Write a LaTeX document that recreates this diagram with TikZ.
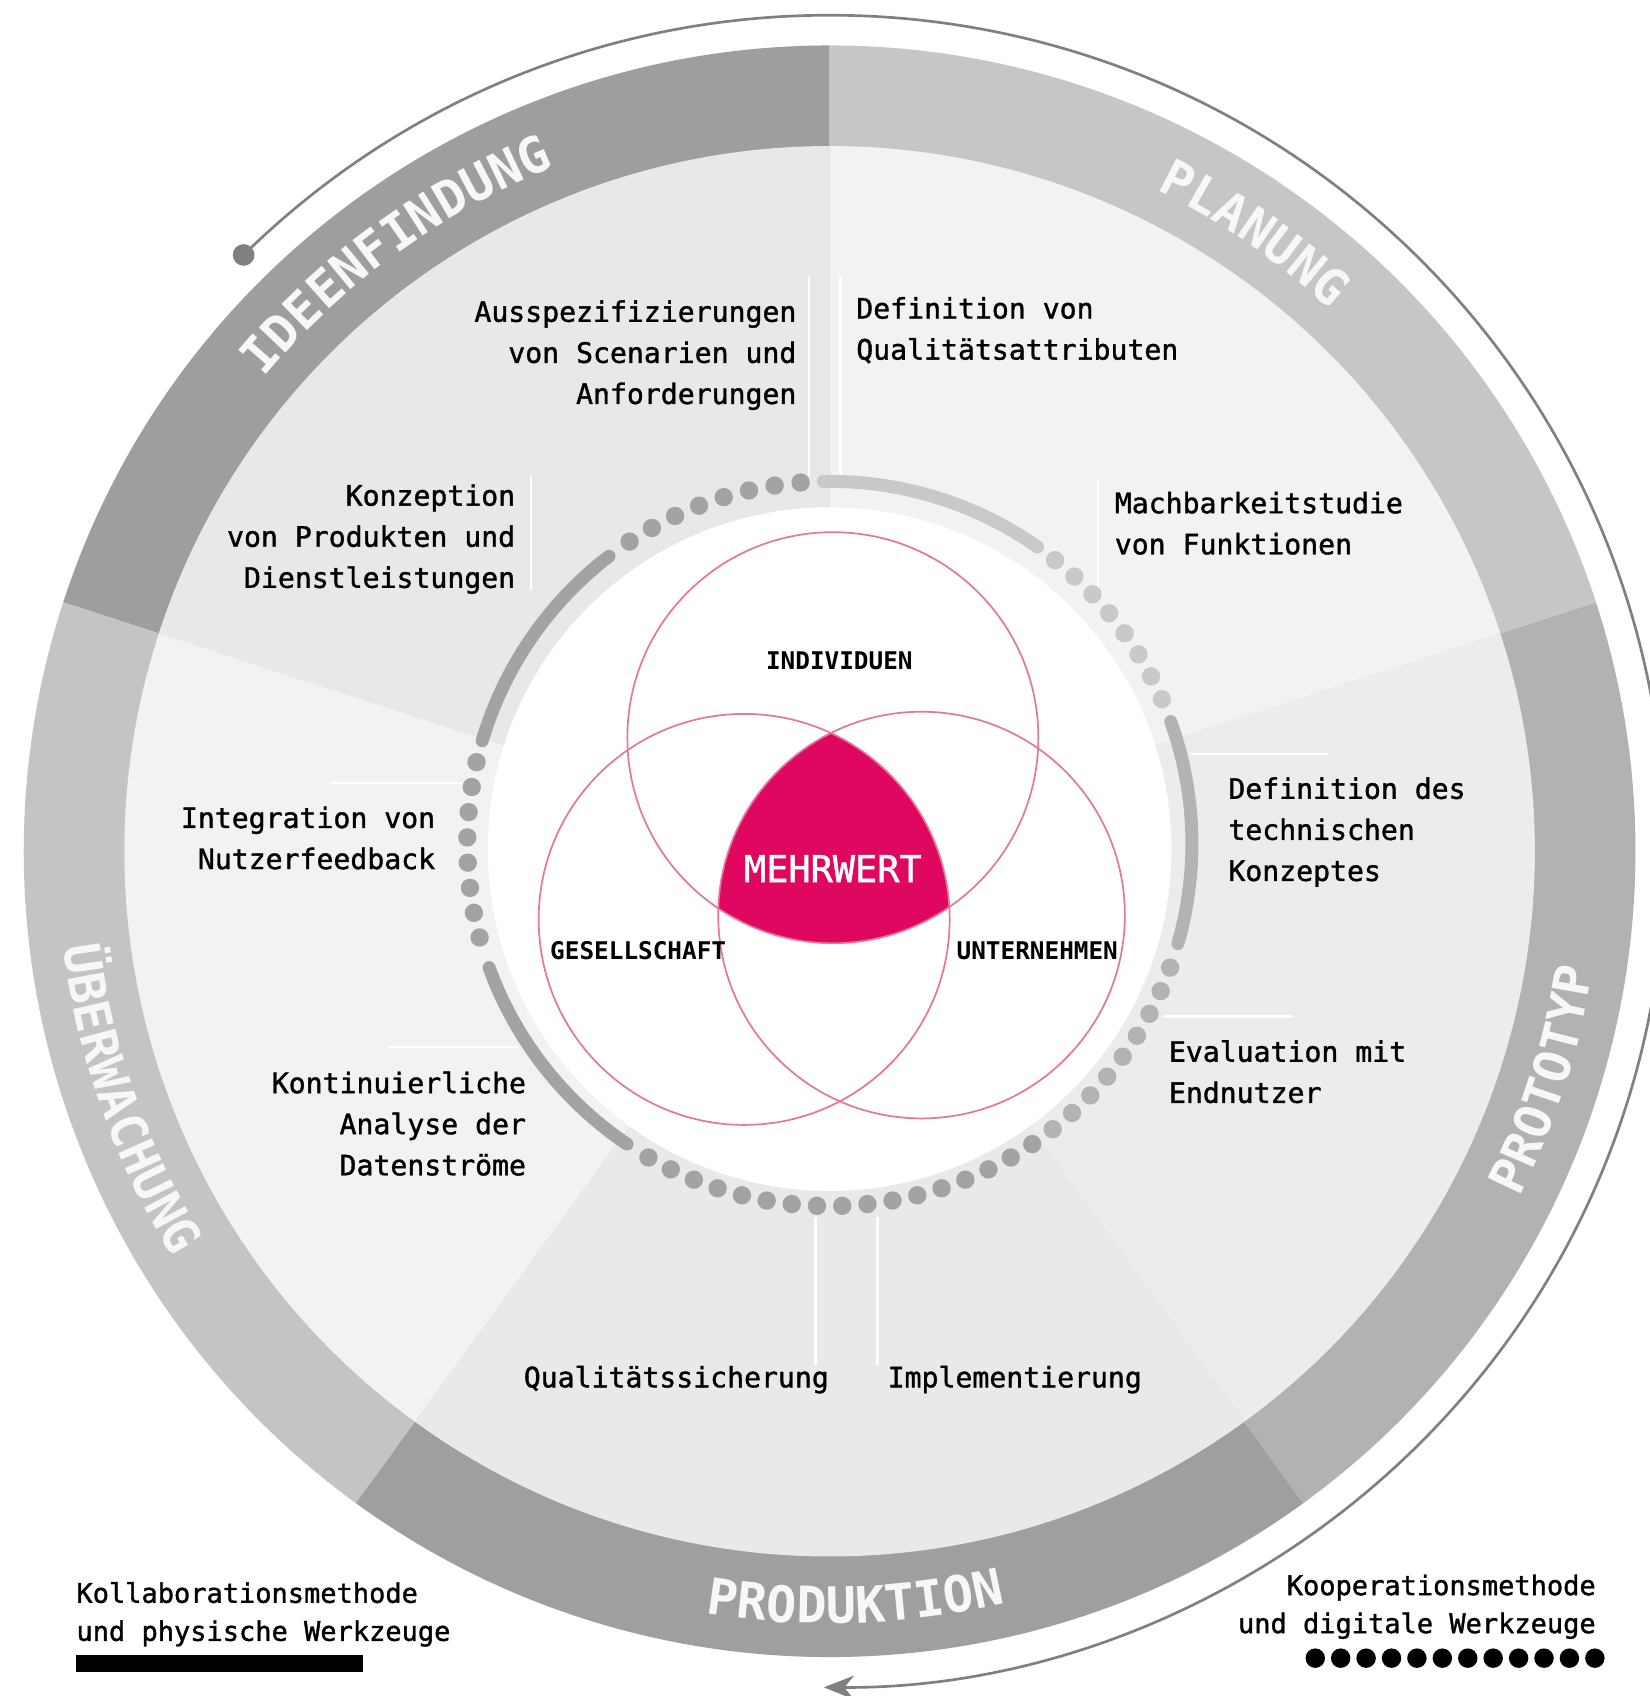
\documentclass[tikz,border=0pt]{standalone}
\usepackage{fontspec}
\newfontfamily\dmono{DejaVu Sans Mono}
\newfontfamily\dmonom[FakeBold=1.3]{DejaVu Sans Mono}
\usetikzlibrary{decorations.text,arrows.meta}
\definecolor{ideaR}{HTML}{9E9E9E}
\definecolor{planR}{HTML}{C6C6C6}
\definecolor{protoR}{HTML}{B2B2B2}
\definecolor{prodR}{HTML}{9F9F9F}
\definecolor{uebR}{HTML}{C4C4C4}
\definecolor{ideaI}{HTML}{E8E8E8}
\definecolor{planI}{HTML}{F2F2F2}
\definecolor{protoI}{HTML}{ECECEC}
\definecolor{prodI}{HTML}{E9E9E9}
\definecolor{uebI}{HTML}{F2F2F2}
\definecolor{dotDark}{HTML}{A3A3A3}
\definecolor{dotLight}{HTML}{C9C9C9}
\definecolor{dotMid}{HTML}{B3B3B3}
\definecolor{mehr}{RGB}{224,7,96}
\definecolor{vennline}{RGB}{228,120,150}
\definecolor{arrowgray}{HTML}{808080}
\definecolor{ringtxt}{HTML}{F7F7F7}
\newcommand\ringlbl{\dmono\bfseries\fontsize{13.2}{15}\selectfont\color{ringtxt}}
\begin{document}
\begin{tikzpicture}[x=0.01cm,y=0.01cm,
  lbl/.style={font=\dmonom\fontsize{7.4}{10.8}\selectfont, inner sep=0pt, text=black},
  leg/.style={font=\dmonom\fontsize{7.1}{10}\selectfont, inner sep=0pt, text=black},
  vennlbl/.style={font=\dmono\bfseries\fontsize{6.4}{8}\selectfont, inner sep=0pt, text=black},
  sepline/.style={white, line width=0.7pt},
  solidarc/.style={line width=0.12cm, line cap=round},
  vennc/.style={draw=vennline, line width=0.45pt},
  ringtext/.style={decorate, decoration={text along path, text align=center, text={#1}}}
]
\useasboundingbox (0,0) rectangle (1525,-1568);
\fill[white] (0,0) rectangle (1525,-1568);

\begin{scope}[shift={(767,-787)}]
  % ring sectors
  \fill[ideaR] (0,0) -- (90:745) arc[start angle=90,end angle=162,radius=745] -- cycle;
  \fill[uebR] (0,0) -- (162:745) arc[start angle=162,end angle=234,radius=745] -- cycle;
  \fill[prodR] (0,0) -- (234:745) arc[start angle=234,end angle=306,radius=745] -- cycle;
  \fill[protoR] (0,0) -- (-54:745) arc[start angle=-54,end angle=18,radius=745] -- cycle;
  \fill[planR] (0,0) -- (18:745) arc[start angle=18,end angle=90,radius=745] -- cycle;
  % inner sectors
  \fill[ideaI] (0,0) -- (90:652) arc[start angle=90,end angle=162,radius=652] -- cycle;
  \fill[uebI] (0,0) -- (162:652) arc[start angle=162,end angle=234,radius=652] -- cycle;
  \fill[prodI] (0,0) -- (234:652) arc[start angle=234,end angle=306,radius=652] -- cycle;
  \fill[protoI] (0,0) -- (-54:652) arc[start angle=-54,end angle=18,radius=652] -- cycle;
  \fill[planI] (0,0) -- (18:652) arc[start angle=18,end angle=90,radius=652] -- cycle;

  % outer cycle arrow
  \draw[arrowgray, line width=0.7pt, -{Stealth[length=0.28cm,width=0.22cm]}]
    (134.5:773) arc[start angle=134.5,end angle=-90.4,radius=773];
  \fill[arrowgray] (134.5:773) circle[radius=10];

  % ring labels
  \path[ringtext={|\ringlbl|IDEENFINDUNG}] (160:682) arc[start angle=160,end angle=92,radius=682];
  \path[ringtext={|\ringlbl|PLANUNG}] (89:682) arc[start angle=89,end angle=22,radius=682];
  \path[ringtext={|\ringlbl|PROTOTYP}] (-50:714) arc[start angle=-50,end angle=14.6,radius=714];
  \path[ringtext={|\ringlbl|PRODUKTION}] (-120:714) arc[start angle=-120,end angle=-56,radius=714];
  \path[ringtext={|\ringlbl|ÜBERWACHUNG}] (167:714) arc[start angle=167,end angle=231.8,radius=714];
\end{scope}

% separator lines
\draw[sepline] (748,-255) -- (748,-440);
\draw[sepline] (777,-255) -- (777,-440);
\draw[sepline] (491,-440) -- (491,-545);
\draw[sepline] (1015,-445) -- (1015,-545);
\draw[sepline] (305,-724) -- (430,-724);
\draw[sepline] (1100,-697) -- (1228,-697);
\draw[sepline] (360,-968) -- (480,-968);
\draw[sepline] (1075,-940) -- (1195,-940);
\draw[sepline] (754,-1125) -- (754,-1262);
\draw[sepline] (811,-1125) -- (811,-1262);

% white disc
\fill[white] (767,-785) circle[radius=316];

% dotted / solid inner ring
\begin{scope}[shift={(767,-780)}]
  \draw[solidarc, dotDark] (127.5:335) arc[start angle=127.5,end angle=163.5,radius=335];
  \foreach \i [evaluate=\i as \a using 94.6+4.13*\i] in {0,...,7}
    \fill[dotDark] (\a:335) circle[radius=8.5];
  \draw[solidarc, dotLight] (55:335) arc[start angle=55,end angle=91,radius=335];
  \foreach \i [evaluate=\i as \a using 23.5+4*\i] in {0,...,7}
    \fill[dotLight] (\a:335) circle[radius=8.5];
  \draw[solidarc, dotMid] (-16:335) arc[start angle=-16,end angle=19.7,radius=335];
  \foreach \i [evaluate=\i as \a using -20-4*\i] in {0,...,8}
    \fill[dotMid] (\a:335) circle[radius=8.5];
  \foreach \i [evaluate=\i as \a using -56-4*\i] in {0,...,16}
    \fill[dotDark] (\a:335) circle[radius=8.5];
  \draw[solidarc, dotDark] (200:335) arc[start angle=200,end angle=236,radius=335];
  \foreach \i [evaluate=\i as \a using 167+4*\i] in {0,...,7}
    \fill[dotDark] (\a:335) circle[radius=8.5];
\end{scope}

% Venn diagram
\begin{scope}
  \clip (770,-682) circle[radius=190];
  \clip (688,-850) circle[radius=190];
  \fill[mehr] (852,-846) circle[radius=188];
\end{scope}
\draw[vennc] (770,-682) circle[radius=190];
\draw[vennc] (688,-850) circle[radius=190];
\draw[vennc] (852,-846) circle[radius=188];

\node[vennlbl] (ind) at (776,-611) {INDIVIDUEN};
\node[vennlbl] (ges) at (590,-879) {GESELLSCHAFT};
\node[vennlbl] (unt) at (959,-879) {UNTERNEHMEN};
\node[font=\dmonom\fontsize{9.7}{12}\selectfont, text=white, inner sep=0pt] (mw) at (770,-803) {MEHRWERT};

% step texts
\node[lbl, align=right, anchor=north east] (t1) at (737,-277) {Ausspezifizierungen\\von Scenarien und\\Anforderungen};
\node[lbl, align=left, anchor=north west] (t2) at (791,-274) {Definition von\\Qualitätsattributen};
\node[lbl, align=right, anchor=north east] (t3) at (477,-447) {Konzeption\\von Produkten und\\Dienstleistungen};
\node[lbl, align=left, anchor=north west] (t4) at (1030,-454) {Machbarkeitstudie\\von Funktionen};
\node[lbl, align=right, anchor=north east] (t5) at (403,-745) {Integration von\\Nutzerfeedback};
\node[lbl, align=left, anchor=north west] (t6) at (1135,-718) {Definition des\\technischen\\Konzeptes};
\node[lbl, align=right, anchor=north east] (t7) at (487,-990) {Kontinuierliche\\Analyse der\\Datenströme};
\node[lbl, align=left, anchor=north west] (t8) at (1080,-961) {Evaluation mit\\Endnutzer};
\node[lbl, align=right, anchor=north east] (t9) at (767,-1262) {Qualitätssicherung};
\node[lbl, align=left, anchor=north west] (t10) at (820,-1262) {Implementierung};

% legend
\node[leg, align=left, anchor=north west] (leg1) at (70,-1462) {Kollaborationsmethode\\und physische Werkzeuge};
\fill[black] (70,-1530) rectangle (336,-1546);
\node[leg, align=right, anchor=north east] (leg2) at (1476,-1455) {Kooperationsmethode\\und digitale Werkzeuge};
\foreach \i in {0,...,11}
  \fill[black] ({1216+23.5*\i},-1533) circle[radius=9];
\end{tikzpicture}
\end{document}
